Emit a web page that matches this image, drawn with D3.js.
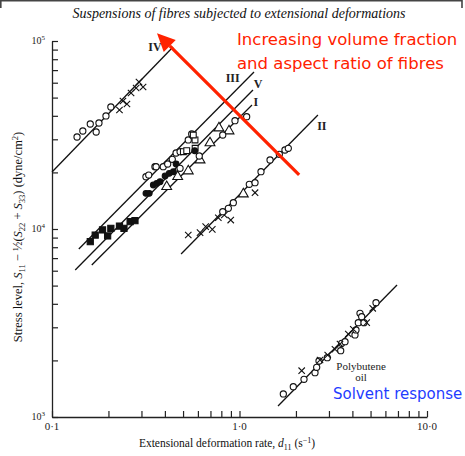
<!DOCTYPE html>
<html>
<head>
<meta charset="utf-8">
<script src="https://cdn.jsdelivr.net/npm/d3@7"></script>
<style>
  body { margin: 0; background: #fff; }
  svg { display: block; }
</style>
</head>
<body>
<div id="chart"></div>
<script>
// x = deformation rate d11 (1/s), y = stress level (dyne/cm^2)
const xDecades = [0.1, 1, 10];
const xTickLabels = ["0·1", "1·0", "10·0"];
const yDecades = [1000, 10000, 100000];
const yTickExp = ["3", "4", "5"];

// fitted lines (end points)
const lineIV = [[0.1, 20100], [0.442, 92900]];
const lineIII = [[0.139, 7830], [1.195, 68400]];
const lineV = [[0.133, 6050], [1.18, 54900]];
const lineI = [[0.163, 6440], [1.166, 45700]];
const lineII = [[0.488, 7360], [2.62, 40400]];
const linePoly = [[1.605, 1144], [6.92, 5040]];

// series IV
const ivCircles = [[0.136, 30860], [0.146, 33210], [0.160, 36180], [0.172, 32810], [0.178, 36630], [0.194, 39920], [0.206, 44560]];
const ivCrosses = [[0.229, 42950], [0.239, 47970], [0.251, 46230], [0.264, 52900], [0.281, 56230], [0.291, 60530], [0.306, 56920]];

// series III / V / I
const openCircles = [[0.317, 18970], [0.328, 19370], [0.354, 21450], [0.359, 21450], [0.392, 21450], [0.414, 22170], [0.438, 23480], [0.459, 25370], [0.482, 25770], [0.533, 29750], [0.556, 32020]];
const openSquares = [[0.502, 25770], [0.523, 26090], [0.579, 29750], [0.567, 31620], [0.58, 26880]];
const filledCircles = [[0.317, 15480], [0.330, 15480], [0.347, 17140], [0.362, 17500], [0.377, 17840], [0.401, 19130], [0.422, 19780], [0.444, 20170], [0.459, 22170], [0.577, 26090]];
const filledSquares = [[0.160, 8560], [0.170, 9290], [0.186, 9880], [0.198, 9180], [0.206, 10090], [0.229, 10370], [0.242, 10090], [0.261, 10940], [0.277, 11070]];
const triangles = [[0.409, 16790], [0.468, 18970], [0.533, 20350], [0.616, 23280], [0.696, 28680], [0.777, 34450], [0.879, 33210]];
const iCircles = [[0.482, 21030], [0.610, 24450], [0.814, 31620], [0.946, 37680], [1.092, 39560]];

// series II
const iiCrosses = [[0.533, 9290], [0.616, 9560], [0.660, 10290], [0.716, 9960], [0.771, 11480], [0.830, 11870], [0.898, 11160], [1.210, 15600]];
const iiCircles = [[0.814, 12360], [0.872, 12890], [0.927, 13800], [1.128, 17290], [1.210, 17630], [1.302, 20170], [1.455, 23280], [1.631, 24970], [1.748, 26320], [1.821, 26880]];
const iiTriangles = [[1.048, 15350]];

// polybutene oil
const polyCircles = [[1.713, 1326], [1.936, 1449], [2.208, 1587], [2.527, 1720], [2.580, 1838], [2.655, 1986], [2.939, 2068], [3.465, 2253], [3.508, 2466], [3.654, 2515], [4.130, 2731], [4.181, 2903], [4.301, 3175], [4.392, 3561], [4.484, 3415], [4.613, 3175], [5.346, 4055]];
const polyCrosses = [[2.146, 1763], [2.688, 2010], [2.954, 2136], [3.230, 2292], [3.436, 2445], [3.805, 2764], [4.045, 2928], [4.768, 3175], [5.133, 3786]];

// annotations
const lineLabels = [["IV", 0.354, 88000], ["III", 0.92, 60500], ["V", 1.255, 56000], ["I", 1.224, 45000], ["II", 2.75, 33600]];
const arrowFrom = [2.08, 19400];
const arrowTo = [0.363, 110000];

const width = 465, height = 456;

const svg = d3.select("#chart").append("svg")
    .attr("width", width)
    .attr("height", height)
    .style("font-family", "'Liberation Serif', 'DejaVu Serif', serif");

svg.append("rect").attr("width", width).attr("height", height).attr("fill", "#fff");

// frame remnant at top of the scan
svg.append("path")
    .attr("d", "M0.8,8 V0.8 H462 V8")
    .attr("fill", "none")
    .attr("stroke", "#444")
    .attr("stroke-width", 1.6);

const scaleX = d3.scaleLog().domain([0.1, 10]).range([52, 427]);
const scaleY = d3.scaleLog().domain([1000, 100000]).range([417, 41]);

// minor ticks 1..9 in each decade
const xTickVals = [];
for (const d of [0.1, 1]) for (let k = 1; k <= 9; k++) xTickVals.push(d * k);
xTickVals.push(10);
const yTickVals = [];
for (const d of [1000, 10000]) for (let k = 1; k <= 9; k++) yTickVals.push(d * k);
yTickVals.push(100000);

// X axis
const gx = svg.append("g")
    .attr("transform", "translate(0," + 417 + ")")
    .call(d3.axisBottom(scaleX).tickValues(xTickVals).tickSize(-6).tickSizeOuter(0).tickFormat(""));
gx.select(".domain").attr("stroke", "#222").attr("stroke-width", 1.3);
gx.selectAll(".tick line").attr("stroke", "#222").attr("stroke-width", 1.2);

// Y axis
const gy = svg.append("g")
    .attr("transform", "translate(" + 52 + ",0)")
    .call(d3.axisLeft(scaleY).tickValues(yTickVals).tickSize(-6).tickSizeOuter(0).tickFormat(""));
gy.select(".domain").attr("stroke", "#222").attr("stroke-width", 1.3);
gy.selectAll(".tick line").attr("stroke", "#222").attr("stroke-width", 1.2);

// tick labels
svg.selectAll(".xlab")
    .data(xDecades)
    .enter().append("text")
    .attr("x", (d) => scaleX(d))
    .attr("y", 430)
    .attr("text-anchor", "middle")
    .attr("font-size", 11)
    .attr("fill", "#222")
    .text((d, i) => xTickLabels[i]);

const ylab = svg.selectAll(".ylab")
    .data(yDecades)
    .enter().append("text")
    .attr("x", 45)
    .attr("y", (d) => scaleY(d) + 3)
    .attr("text-anchor", "end")
    .attr("font-size", 10)
    .attr("fill", "#222");
ylab.append("tspan").text("10");
ylab.append("tspan").attr("dy", -4).attr("font-size", 7).text((d, i) => yTickExp[i]);

// axis titles
const xt = svg.append("text")
    .attr("x", 227)
    .attr("y", 447)
    .attr("text-anchor", "middle")
    .attr("font-size", 11.5)
    .attr("fill", "#111");
xt.append("tspan").text("Extensional deformation rate, ");
xt.append("tspan").attr("font-style", "italic").text("d");
xt.append("tspan").attr("font-size", 8).attr("dy", 3).text("11");
xt.append("tspan").attr("dy", -3).text(" (s");
xt.append("tspan").attr("font-size", 8).attr("dy", -4).text("−1");
xt.append("tspan").attr("dy", 4).text(")");

const yt = svg.append("text")
    .attr("transform", "translate(22,237) rotate(-90)")
    .attr("text-anchor", "middle")
    .attr("font-size", 12.5)
    .attr("fill", "#111");
yt.append("tspan").text("Stress level, ");
yt.append("tspan").attr("font-style", "italic").text("S");
yt.append("tspan").attr("font-size", 8.5).attr("dy", 3).text("11");
yt.append("tspan").attr("dy", -3).text(" − ½(");
yt.append("tspan").attr("font-style", "italic").text("S");
yt.append("tspan").attr("font-size", 8.5).attr("dy", 3).text("22");
yt.append("tspan").attr("dy", -3).text(" + ");
yt.append("tspan").attr("font-style", "italic").text("S");
yt.append("tspan").attr("font-size", 8.5).attr("dy", 3).text("33");
yt.append("tspan").attr("dy", -3).text(")    (dyne/cm");
yt.append("tspan").attr("font-size", 8.5).attr("dy", -4).text("2");
yt.append("tspan").attr("dy", 4).text(")");

// title
svg.append("text")
    .attr("x", 239)
    .attr("y", 18)
    .attr("text-anchor", "middle")
    .attr("font-size", 14)
    .attr("font-style", "italic")
    .attr("fill", "#111")
    .text("Suspensions of fibres subjected to extensional deformations");

// fitted lines
const lineFunc = d3.line()
    .x((d) => scaleX(d[0]))
    .y((d) => scaleY(d[1]));

[lineIV, lineIII, lineV, lineI, lineII, linePoly].forEach((l) => {
    svg.append("path")
        .attr("d", lineFunc(l))
        .attr("stroke", "#111")
        .attr("stroke-width", 1.3)
        .attr("fill", "none");
});

// markers
const crossPath = (s) => "M" + (-s) + "," + (-s) + "L" + s + "," + s + "M" + (-s) + "," + s + "L" + s + "," + (-s);

const drawPoints = (data, kind) => {
    const g = svg.append("g");
    const sel = g.selectAll("path").data(data).enter().append("path")
        .attr("transform", (d) => "translate(" + scaleX(d[0]) + "," + scaleY(d[1]) + ")")
        .attr("stroke", "#111")
        .attr("stroke-width", 1.1);
    if (kind === "circle") {
        sel.attr("d", d3.symbol().type(d3.symbolCircle).size(30)()).attr("fill", "#fff");
    } else if (kind === "dot") {
        sel.attr("d", d3.symbol().type(d3.symbolCircle).size(26)()).attr("fill", "#111");
    } else if (kind === "square") {
        sel.attr("d", d3.symbol().type(d3.symbolSquare).size(34)()).attr("fill", "#fff");
    } else if (kind === "fsquare") {
        sel.attr("d", d3.symbol().type(d3.symbolSquare).size(38)()).attr("fill", "#111");
    } else if (kind === "triangle") {
        sel.attr("d", d3.symbol().type(d3.symbolTriangle).size(42)()).attr("fill", "#fff");
    } else {
        sel.attr("d", crossPath(3.2)).attr("fill", "none");
    }
};

drawPoints(ivCircles, "circle");
drawPoints(ivCrosses, "cross");
drawPoints(openCircles, "circle");
drawPoints(openSquares, "square");
drawPoints(filledCircles, "dot");
drawPoints(filledSquares, "fsquare");
drawPoints(triangles, "triangle");
drawPoints(iCircles, "circle");
drawPoints(iiCrosses, "cross");
drawPoints(iiCircles, "circle");
drawPoints(iiTriangles, "triangle");
drawPoints(polyCircles, "circle");
drawPoints(polyCrosses, "cross");

// line labels
svg.selectAll(".llab")
    .data(lineLabels)
    .enter().append("text")
    .attr("x", (d) => scaleX(d[1]))
    .attr("y", (d) => scaleY(d[2]))
    .attr("text-anchor", "middle")
    .attr("font-size", 12)
    .attr("font-weight", "bold")
    .attr("fill", "#222")
    .text((d) => d[0]);

svg.append("text")
    .attr("x", scaleX(4.45))
    .attr("y", scaleY(1780))
    .attr("text-anchor", "middle")
    .attr("font-size", 11)
    .attr("fill", "#222")
    .text("Polybutene");
svg.append("text")
    .attr("x", scaleX(4.45))
    .attr("y", scaleY(1560))
    .attr("text-anchor", "middle")
    .attr("font-size", 11)
    .attr("fill", "#222")
    .text("oil");

// red arrow
const red = "#ff2200";
const x0 = scaleX(arrowFrom[0]), y0 = scaleY(arrowFrom[1]);
const x1 = scaleX(arrowTo[0]), y1 = scaleY(arrowTo[1]);
const ang = Math.atan2(y1 - y0, x1 - x0);
const headLen = 18, headW = 8.5;
const bx = x1 - headLen * Math.cos(ang), by = y1 - headLen * Math.sin(ang);
svg.append("line")
    .attr("x1", x0).attr("y1", y0)
    .attr("x2", bx).attr("y2", by)
    .attr("stroke", red)
    .attr("stroke-width", 3.2);
svg.append("path")
    .attr("d", "M" + x1 + "," + y1 +
        "L" + (bx + headW * Math.sin(ang)) + "," + (by - headW * Math.cos(ang)) +
        "L" + (bx - headW * Math.sin(ang)) + "," + (by + headW * Math.cos(ang)) + "Z")
    .attr("fill", red);

const note = svg.append("g")
    .style("font-family", "'DejaVu Sans', Verdana, sans-serif");
note.append("text").attr("x", 237).attr("y", 45).attr("font-size", 16.5).attr("fill", red).text("Increasing volume fraction");
note.append("text").attr("x", 237).attr("y", 69).attr("font-size", 16.5).attr("fill", red).text("and aspect ratio of fibres");
note.append("text").attr("x", 333).attr("y", 399).attr("font-size", 15).attr("fill", "#1e3cff").text("Solvent response");
</script>
</body>
</html>
